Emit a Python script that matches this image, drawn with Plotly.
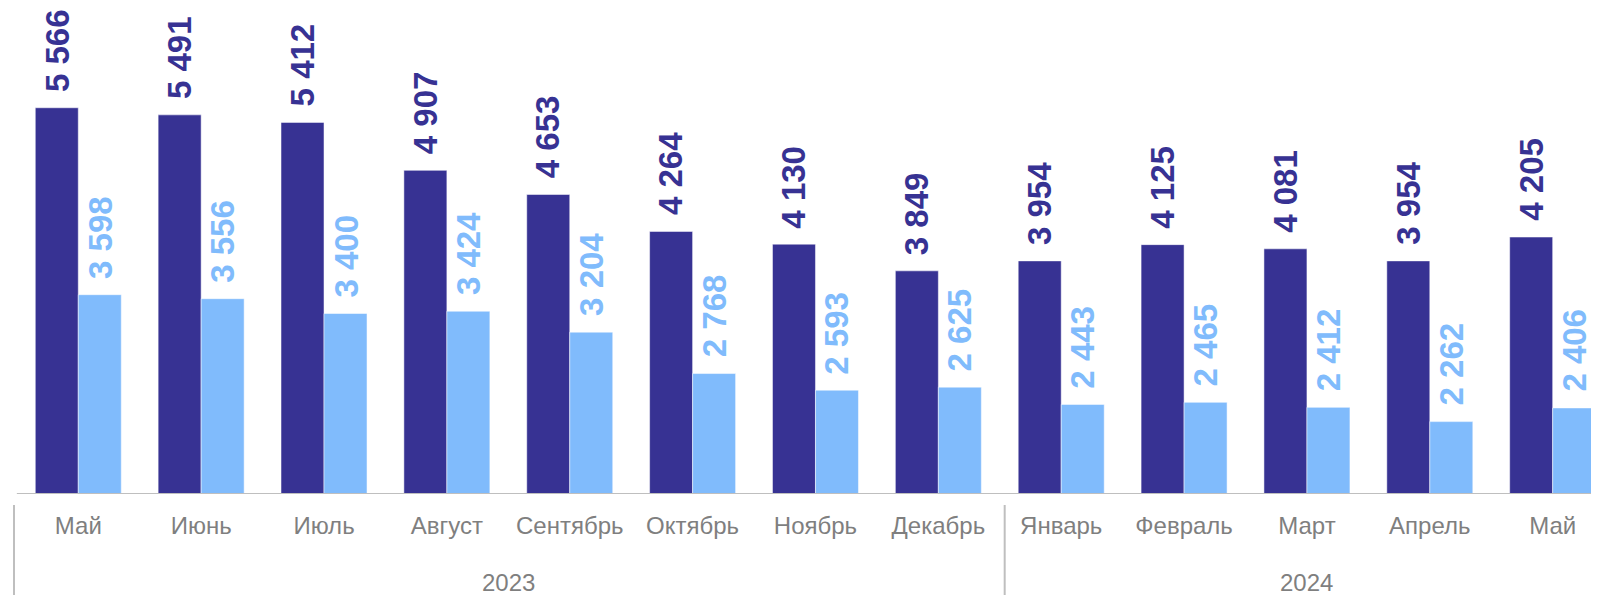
import plotly.graph_objects as go

MONTHS = ["Май", "Июнь", "Июль", "Август", "Сентябрь", "Октябрь", "Ноябрь",
          "Декабрь", "Январь", "Февраль", "Март", "Апрель", "Май"]
YEARS = ["2023", "2024"]
YEAR_SPANS = [(0, 7), (8, 12)]

dark_values = [5566, 5491, 5412, 4907, 4653, 4264, 4130, 3849, 3954, 4125, 4081, 3954, 4205]
light_values = [3598, 3556, 3400, 3424, 3204, 2768, 2593, 2625, 2443, 2465, 2412, 2262, 2406]

DARK = "#373293"
LIGHT = "#80BBFC"
GRAY_TEXT = "#7f7f7f"
GRAY_LINE = "#bfbfbf"
FONT = "Liberation Sans, Arial, sans-serif"

Y_MIN, Y_MAX = 1500, 6616
X_RANGE = [-0.572, 12.377]
BAR_W = 0.35  # (1 - bargap) / 2


def fmt(v):
    return f"{v:,}".replace(",", " ")


x = list(range(len(MONTHS)))

fig = go.Figure()
for vals, color, side in [(dark_values, DARK, -1), (light_values, LIGHT, 1)]:
    fig.add_trace(go.Bar(
        x=x,
        y=vals,
        marker=dict(color=color, line=dict(color="rgba(255,255,255,0.5)", width=1)),
        showlegend=False,
    ))
    # value labels, rotated, above each bar
    for xi, v in zip(x, vals):
        fig.add_annotation(
            x=xi + side * BAR_W / 2, y=v, xref="x", yref="y",
            text=f"<b>{fmt(v)}</b>", textangle=-90, showarrow=False,
            xanchor="center", yanchor="bottom", yshift=14,
            font=dict(family=FONT, size=33, color=color),
        )

# baseline
fig.add_shape(type="line", xref="x", yref="y", x0=-0.5, x1=X_RANGE[1], y0=Y_MIN, y1=Y_MIN,
              line=dict(color=GRAY_LINE, width=2))

# year dividers
for xd in [-0.523, 7.54]:
    fig.add_shape(type="line", xref="x", yref="paper", x0=xd, x1=xd, y0=-0.0226, y1=-0.25,
                  line=dict(color=GRAY_LINE, width=2))

# year labels
for year, (a, b) in zip(YEARS, YEAR_SPANS):
    fig.add_annotation(x=(a + b) / 2, y=-0.183, xref="x", yref="paper", text=year,
                       showarrow=False, yanchor="middle",
                       font=dict(family=FONT, size=24, color=GRAY_TEXT))

fig.update_layout(
    width=1591,
    height=587,
    margin=dict(l=0, r=0, t=0, b=101),
    barmode="group",
    bargap=0.3,
    bargroupgap=0,
    plot_bgcolor="white",
    paper_bgcolor="white",
    font=dict(family=FONT),
    xaxis=dict(
        range=X_RANGE,
        tickmode="array",
        tickvals=x,
        ticktext=MONTHS,
        showline=False,
        showgrid=False,
        zeroline=False,
        ticks="",
        tickfont=dict(family=FONT, size=24, color=GRAY_TEXT),
        ticklabelstandoff=15,
    ),
    yaxis=dict(range=[Y_MIN, Y_MAX], visible=False),
)

fig.write_html("out.html")
